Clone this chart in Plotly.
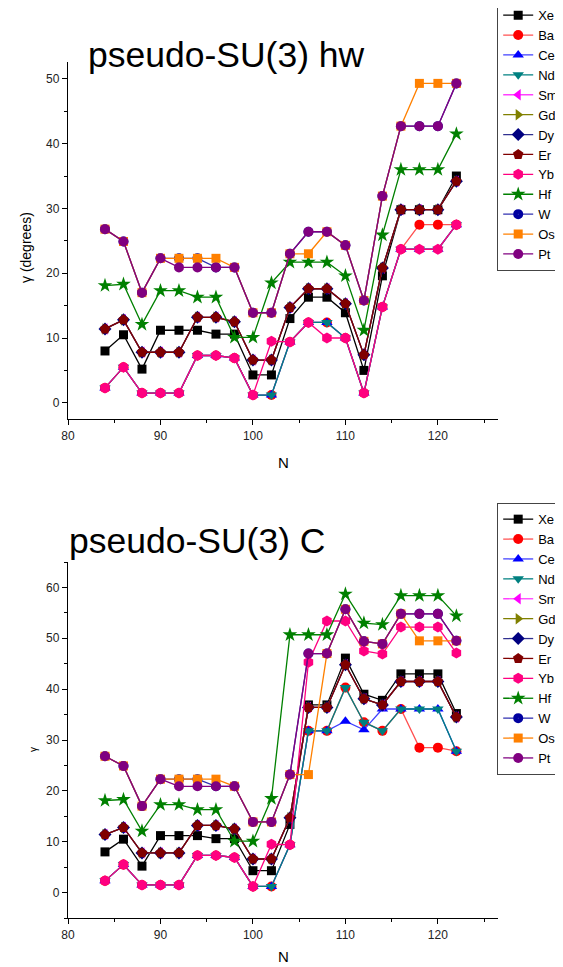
import plotly.graph_objects as go

W, H = 563, 967

N = [84, 86, 88, 90, 92, 94, 96, 98, 100, 102, 104, 106, 108, 110, 112, 114, 116, 118, 120, 122]
elements = ["Xe", "Ba", "Ce", "Nd", "Sm", "Gd", "Dy", "Er", "Yb", "Hf", "W", "Os", "Pt"]

# ---- pseudo-SU(3) hw ----
xe_hw = [8.0, 10.5, 5.2, 11.2, 11.2, 11.2, 10.6, 10.6, 4.3, 4.3, 13.0, 16.3, 16.3, 13.9, 5.0, 19.6, 29.8, 29.8, 29.8, 35.0]
ba_hw = [2.3, 5.5, 1.5, 1.5, 1.5, 7.3, 7.3, 6.9, 1.2, 1.2, 9.4, 12.4, 12.4, 10.0, 1.5, 14.8, 23.7, 27.5, 27.5, 27.5]
ce_hw = [2.3, 5.5, 1.5, 1.5, 1.5, 7.3, 7.3, 6.9, 1.2, 1.2, 9.4, 12.4, 12.4, 10.0, 1.5, 14.8, 23.7, 23.7, 23.7, 27.5]
nd_hw = [2.3, 5.5, 1.5, 1.5, 1.5, 7.3, 7.3, 6.9, 1.2, 1.2, 9.4, 12.4, 12.4, 10.0, 1.5, 14.8, 23.7, 23.7, 23.7, 27.5]
sm_hw = [11.4, 12.8, 7.8, 7.8, 7.8, 13.2, 13.2, 12.5, 6.6, 6.6, 14.7, 17.6, 17.6, 15.3, 7.4, 20.8, 29.8, 29.8, 29.8, 34.2]
gd_hw = [11.4, 12.8, 7.8, 7.8, 7.8, 13.2, 13.2, 12.5, 6.6, 6.6, 14.7, 17.6, 17.6, 15.3, 7.4, 20.8, 29.8, 29.8, 29.8, 34.2]
dy_hw = [11.4, 12.8, 7.8, 7.8, 7.8, 13.2, 13.2, 12.5, 6.6, 6.6, 14.7, 17.6, 17.6, 15.3, 7.4, 20.8, 29.8, 29.8, 29.8, 34.2]
er_hw = [11.4, 12.8, 7.8, 7.8, 7.8, 13.2, 13.2, 12.5, 6.6, 6.6, 14.7, 17.6, 17.6, 15.3, 7.4, 20.8, 29.8, 29.8, 29.8, 34.2]
yb_hw = [2.3, 5.5, 1.5, 1.5, 1.5, 7.3, 7.3, 6.9, 1.2, 9.5, 9.4, 12.4, 10.0, 10.0, 1.5, 14.8, 23.7, 23.7, 23.7, 27.5]
hf_hw = [18.1, 18.3, 12.1, 17.3, 17.3, 16.3, 16.3, 10.1, 10.1, 18.5, 21.7, 21.7, 21.7, 19.6, 11.2, 25.9, 36.0, 36.0, 36.0, 41.5]
w_hw = [26.8, 24.9, 17.0, 22.3, 22.3, 22.3, 20.9, 20.9, 13.9, 13.9, 23.0, 26.4, 26.4, 24.3, 15.8, 31.9, 42.7, 42.7, 42.7, 49.3]
os_hw = [26.8, 24.9, 17.0, 22.3, 22.3, 22.3, 22.3, 20.9, 13.9, 13.9, 23.0, 23.0, 26.4, 24.3, 15.8, 31.9, 42.7, 49.3, 49.3, 49.3]
pt_hw = [26.8, 24.9, 17.0, 22.3, 20.9, 20.9, 20.9, 20.9, 13.9, 13.9, 23.0, 26.4, 26.4, 24.3, 15.8, 31.9, 42.7, 42.7, 42.7, 49.3]

# ---- pseudo-SU(3) C ----
xe_c = [8.0, 10.5, 5.2, 11.2, 11.2, 11.2, 10.6, 10.6, 4.3, 4.3, 13.4, 36.9, 36.9, 46.1, 39.0, 37.8, 43.0, 43.0, 43.0, 35.2]
ba_c = [2.3, 5.5, 1.5, 1.5, 1.5, 7.3, 7.3, 6.9, 1.2, 1.2, 9.4, 31.8, 31.8, 40.3, 33.5, 31.8, 36.1, 28.5, 28.5, 27.8]
ce_c = [2.3, 5.5, 1.5, 1.5, 1.5, 7.3, 7.3, 6.9, 1.2, 1.2, 9.4, 31.8, 31.8, 33.7, 32.0, 36.1, 36.1, 36.1, 36.1, 27.8]
nd_c = [2.3, 5.5, 1.5, 1.5, 1.5, 7.3, 7.3, 6.9, 1.2, 1.2, 9.4, 31.8, 31.8, 40.3, 33.5, 31.8, 36.1, 36.1, 36.1, 27.8]
sm_c = [11.4, 12.8, 7.8, 7.8, 7.8, 13.2, 13.2, 12.5, 6.6, 6.6, 14.7, 36.4, 36.4, 44.8, 38.1, 36.9, 41.5, 41.5, 41.5, 34.5]
gd_c = [11.4, 12.8, 7.8, 7.8, 7.8, 13.2, 13.2, 12.5, 6.6, 6.6, 14.7, 36.4, 36.4, 44.8, 38.1, 36.9, 41.5, 41.5, 41.5, 34.5]
dy_c = [11.4, 12.8, 7.8, 7.8, 7.8, 13.2, 13.2, 12.5, 6.6, 6.6, 14.7, 36.4, 36.4, 44.8, 38.1, 36.9, 41.5, 41.5, 41.5, 34.5]
er_c = [11.4, 12.8, 7.8, 7.8, 7.8, 13.2, 13.2, 12.5, 6.6, 6.6, 14.7, 36.4, 36.4, 44.8, 38.1, 36.9, 41.5, 41.5, 41.5, 34.5]
yb_c = [2.3, 5.5, 1.5, 1.5, 1.5, 7.3, 7.3, 6.9, 1.2, 9.5, 9.4, 45.3, 53.4, 53.4, 47.5, 46.9, 52.2, 52.2, 52.2, 47.1]
hf_c = [18.1, 18.3, 12.1, 17.3, 17.3, 16.3, 16.3, 10.1, 10.1, 18.5, 50.7, 50.7, 50.7, 58.7, 53.0, 52.7, 58.4, 58.4, 58.4, 54.4]
w_c = [26.8, 24.9, 17.0, 22.3, 22.3, 22.3, 20.9, 20.9, 13.9, 13.9, 23.2, 47.0, 47.0, 55.7, 49.4, 48.9, 54.8, 54.8, 54.8, 49.5]
os_c = [26.8, 24.9, 17.0, 22.3, 22.3, 22.3, 22.3, 20.9, 13.9, 13.9, 23.2, 23.2, 47.0, 55.7, 49.4, 48.9, 54.8, 49.5, 49.5, 49.5]
pt_c = [26.8, 24.9, 17.0, 22.3, 20.9, 20.9, 20.9, 20.9, 13.9, 13.9, 23.2, 47.0, 47.0, 55.7, 49.4, 48.9, 54.8, 54.8, 54.8, 49.5]

hw_values = [xe_hw, ba_hw, ce_hw, nd_hw, sm_hw, gd_hw, dy_hw, er_hw, yb_hw, hf_hw, w_hw, os_hw, pt_hw]
c_values = [xe_c, ba_c, ce_c, nd_c, sm_c, gd_c, dy_c, er_c, yb_c, hf_c, w_c, os_c, pt_c]

styles = {
    "Xe": dict(color="#000000", line="#000000", symbol="square", size=9),
    "Ba": dict(color="#FF0000", line="#FF5050", symbol="circle", size=10),
    "Ce": dict(color="#0000FF", line="#4040FF", symbol="triangle-up", size=10),
    "Nd": dict(color="#008080", line="#008080", symbol="triangle-down", size=10),
    "Sm": dict(color="#FF00FF", line="#FF40FF", symbol="triangle-left", size=10),
    "Gd": dict(color="#808000", line="#808000", symbol="triangle-right", size=10),
    "Dy": dict(color="#000080", line="#303090", symbol="diamond", size=10),
    "Er": dict(color="#800000", line="#800000", symbol="pentagon", size=11),
    "Yb": dict(color="#FF0080", line="#FF0080", symbol="hexagon", size=11),
    "Hf": dict(color="#008000", line="#008000", symbol="star", size=11),
    "W": dict(color="#0000A0", line="#3030B0", symbol="circle-dot", size=10),
    "Os": dict(color="#FF8000", line="#FF8000", symbol="square", size=9),
    "Pt": dict(color="#800080", line="#800080", symbol="circle", size=10),
}

fig = go.Figure()

def add_panel(values, xa, ya, legend):
    for name, vals in zip(elements, values):
        st = styles[name]
        fig.add_trace(go.Scatter(
            x=N, y=vals, name=name, mode="lines+markers",
            xaxis=xa, yaxis=ya, legend=legend,
            line=dict(color=st["line"], width=1.3),
            marker=dict(symbol=st["symbol"], size=st["size"], color=st["color"],
                        line=dict(width=0)),
        ))

add_panel(hw_values, "x", "y", "legend")
add_panel(c_values, "x2", "y2", "legend2")

def py(px):
    return 1 - px / H

def pxx(px):
    return px / W

X0, X1 = 60, 490
axis_common = dict(
    showline=True, linecolor="#000000", linewidth=1.3, mirror=False,
    ticks="outside", ticklen=5, tickwidth=1.2, tickcolor="#000000",
    showgrid=False, zeroline=False,
    tickfont=dict(family="Arial, Liberation Sans, sans-serif", size=12, color="#222222"),
)

fig.update_layout(
    width=W, height=H,
    margin=dict(l=0, r=0, t=0, b=0, autoexpand=False),
    paper_bgcolor="white", plot_bgcolor="white",
    font=dict(family="Arial, Liberation Sans, sans-serif", color="#000000"),
    showlegend=True,
    xaxis=dict(domain=[pxx(X0), pxx(X1)], range=[80, 126.5], anchor="y",
               tickvals=[80, 90, 100, 110, 120],
               minor=dict(ticks="outside", ticklen=3, tickvals=[85, 95, 105, 115, 125], tickcolor="#000000"),
               **axis_common),
    yaxis=dict(domain=[py(411), py(54)], range=[-2.5, 52.6], anchor="x",
               tickvals=[0, 10, 20, 30, 40, 50],
               minor=dict(ticks="outside", ticklen=3, tickvals=[5, 15, 25, 35, 45], tickcolor="#000000"),
               **axis_common),
    xaxis2=dict(domain=[pxx(X0), pxx(X1)], range=[80, 126.5], anchor="y2",
                tickvals=[80, 90, 100, 110, 120],
                minor=dict(ticks="outside", ticklen=3, tickvals=[85, 95, 105, 115, 125], tickcolor="#000000"),
                **axis_common),
    yaxis2=dict(domain=[py(910), py(554)], range=[-5, 65], anchor="x2",
                tickvals=[0, 10, 20, 30, 40, 50, 60],
                minor=dict(ticks="outside", ticklen=3, tickvals=[-5, 5, 15, 25, 35, 45, 55, 65], tickcolor="#000000"),
                **axis_common),
    legend=dict(x=pxx(489), y=py(-9), xanchor="left", yanchor="top",
                bgcolor="white", bordercolor="#444444", borderwidth=1.2,
                font=dict(size=13, color="#000000"), tracegroupgap=0, itemwidth=30),
    legend2=dict(x=pxx(489), y=py(495), xanchor="left", yanchor="top",
                 bgcolor="white", bordercolor="#444444", borderwidth=1.2,
                 font=dict(size=13, color="#000000"), tracegroupgap=0, itemwidth=30),
)

annotations = [
    dict(text="pseudo-SU(3) hw", x=pxx(78), y=py(47), xanchor="left", yanchor="middle",
         font=dict(size=35.5, color="#000000")),
    dict(text="pseudo-SU(3) C", x=pxx(59), y=py(533), xanchor="left", yanchor="middle",
         font=dict(size=35.5, color="#000000")),
    dict(text="N", x=pxx(275), y=py(455), xanchor="center", yanchor="middle",
         font=dict(size=15, color="#000000")),
    dict(text="N", x=pxx(275), y=py(948), xanchor="center", yanchor="middle",
         font=dict(size=15, color="#000000")),
    dict(text="γ (degrees)", x=pxx(18), y=py(240), xanchor="center", yanchor="middle",
         textangle=-90, font=dict(size=14, color="#000000")),
    dict(text="γ", x=pxx(25), y=py(742), xanchor="center", yanchor="middle",
         textangle=-90, font=dict(size=10, color="#000000")),
]
for a in annotations:
    a.update(xref="paper", yref="paper", showarrow=False)
fig.update_layout(annotations=annotations)

fig.write_html("out.html")
